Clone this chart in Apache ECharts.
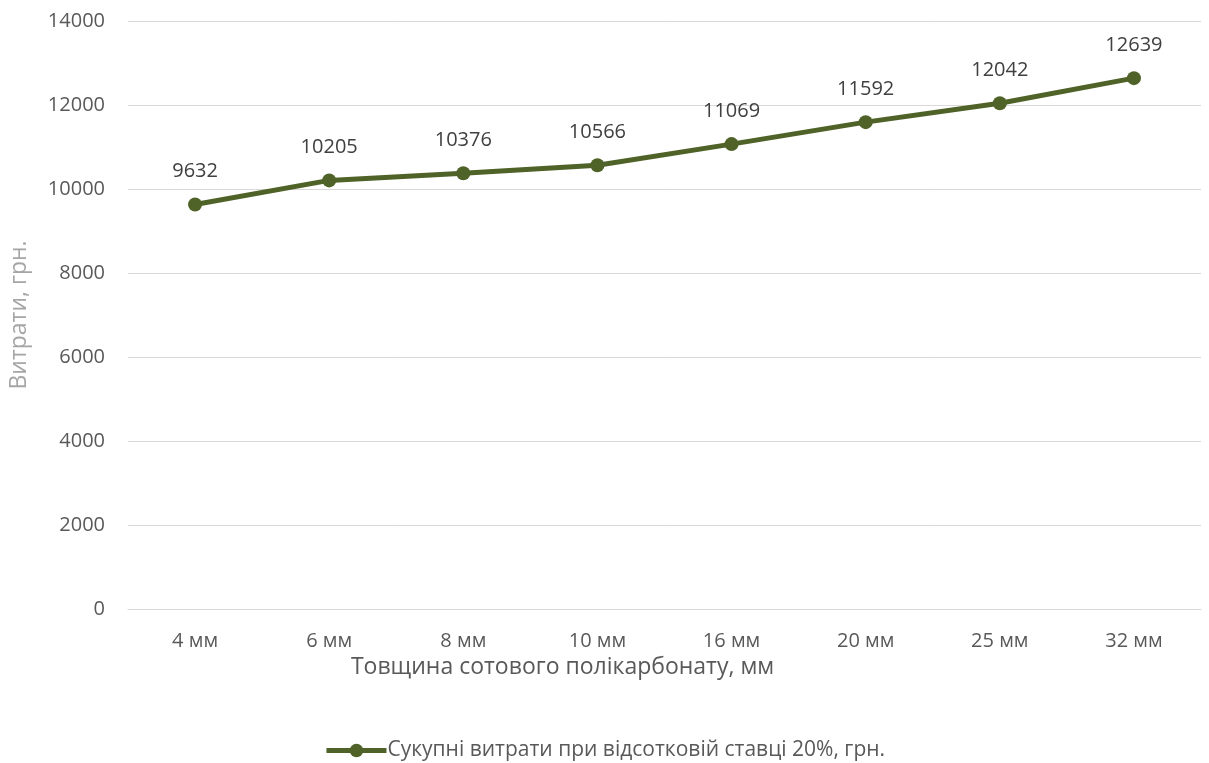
<!DOCTYPE html>
<html>
<head>
<meta charset="utf-8">
<script src="https://cdn.jsdelivr.net/npm/echarts@6/dist/echarts.min.js"></script>
<style>
  html, body { margin: 0; padding: 0; background: #ffffff; }
  #chart { width: 1209px; height: 763px; }
</style>
</head>
<body>
<div id="chart"></div>
<script>
// Polycarbonate sheet thickness categories
const categories = ['4 мм', '6 мм', '8 мм', '10 мм', '16 мм', '20 мм', '25 мм', '32 мм'];
// Total costs at 20% rate, UAH
const costValues = [9632, 10205, 10376, 10566, 11069, 11592, 12042, 12639];
const seriesName = 'Сукупні витрати при відсотковій ставці 20%, грн.';
const yTicks = [0, 2000, 4000, 6000, 8000, 10000, 12000, 14000];

const font = '"Open Sans", "Noto Sans", sans-serif';
const lineColor = '#4f6228';

const chart = echarts.init(document.getElementById('chart'), null, { renderer: 'canvas' });

chart.setOption({
  animation: false,
  textStyle: { fontFamily: font },
  grid: { left: 126, right: 8, top: 21, bottom: 154, containLabel: false },
  legend: {
    data: [seriesName],
    top: 735,
    left: 'center',
    itemWidth: 60,
    itemHeight: 17,
    itemGap: 0,
    lineStyle: { width: 5 },
    textStyle: { fontFamily: font, fontSize: 21, color: '#595959', padding: [0, 0, 0, -4] }
  },
  xAxis: {
    type: 'category',
    data: categories,
    boundaryGap: true,
    name: 'Товщина сотового полікарбонату, мм',
    nameLocation: 'middle',
    nameGap: 27,
    nameTextStyle: {
      fontFamily: font, fontSize: 23, color: '#595959',
      padding: [0, 204, 0, 0]
    },
    axisLine: { show: true, lineStyle: { color: '#d9d9d9', width: 1 } },
    axisTick: { show: false },
    axisLabel: { margin: 22, fontFamily: font, fontSize: 20, color: '#595959' },
    splitLine: { show: false }
  },
  yAxis: {
    type: 'value',
    min: yTicks[0],
    max: yTicks[yTicks.length - 1],
    interval: 2000,
    name: 'Витрати, грн.',
    nameLocation: 'middle',
    nameGap: 97,
    nameTextStyle: { fontFamily: font, fontSize: 23, color: '#a6a6a6' },
    axisLine: { show: false },
    axisTick: { show: false },
    axisLabel: {
      margin: 23, fontFamily: font, fontSize: 20, color: '#595959',
      formatter: (v) => String(v)
    },
    splitLine: { show: true, lineStyle: { color: '#d9d9d9', width: 1 } }
  },
  series: [{
    name: seriesName,
    type: 'line',
    data: costValues,
    symbol: 'circle',
    symbolSize: 14,
    lineStyle: { color: lineColor, width: 5 },
    itemStyle: { color: lineColor },
    label: {
      show: true,
      position: 'top',
      distance: 16,
      fontFamily: font,
      fontSize: 20,
      color: '#404040'
    }
  }]
});
</script>
</body>
</html>
